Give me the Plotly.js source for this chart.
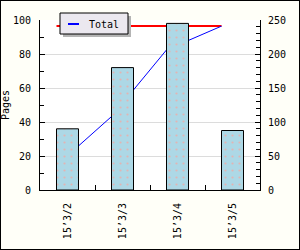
<!DOCTYPE html>
<html>
<head>
<meta charset="utf-8">
<script src="https://cdn.plot.ly/plotly-3.0.1.min.js"></script>
<style>
  html, body { margin: 0; padding: 0; background: #fffff8; }
  #wrap { position: relative; width: 300px; height: 250px; }
  #chart { width: 300px; height: 250px; }
  #frame { position: absolute; left: 0; top: 0; width: 298px; height: 248px; border: 1px solid #000; pointer-events: none; }
</style>
</head>
<body>
<div id="wrap"><div id="chart"></div><div id="frame"></div></div>
<script>
// ---- data ----
const categories = ["15’3/2", "15’3/3", "15’3/4", "15’3/5"];
const pages = [36, 72, 98, 35];
const seriesName = "Total";
const yTitle = "Pages";

// ---- derived ----
const BAR_WIDTH = 0.4;
const idx = categories.map((_, i) => i);
const cumulative = [];
pages.reduce((acc, v) => { const s = acc + v; cumulative.push(s); return s; }, 0);
const total = cumulative[cumulative.length - 1];
const lineX = idx.map(i => i - BAR_WIDTH / 2);

const FONT = { family: "DejaVu Sans Mono, monospace", size: 10, color: "#000" };

// plot-area pixel helpers for the legend box (plot area: x 40..260, y 20..190)
const px = v => (v - 40) / 220;
const py = v => (190 - v) / 170;

const traces = [
  { type: "scatter", mode: "lines",
    x: [lineX[0], lineX[lineX.length - 1]], y: [total, total],
    xaxis: "x", yaxis: "y",
    line: { color: "#ff0000", width: 2 },
    showlegend: false, hoverinfo: "skip" },
  { type: "scatter", mode: "lines",
    x: lineX, y: cumulative,
    xaxis: "x", yaxis: "y",
    name: seriesName,
    line: { color: "#0000ff", width: 1 },
    showlegend: false },
  { type: "bar",
    x: categories, y: pages,
    xaxis: "x2", yaxis: "y2",
    width: BAR_WIDTH,
    marker: {
      color: "#add8e6",
      line: { color: "#000", width: 1 },
      pattern: { shape: ".", fgcolor: "#e2b4b4", bgcolor: "#add8e6", size: 7, solidity: 0.08 }
    },
    showlegend: false }
];

const layout = {
  width: 300, height: 250,
  margin: { l: 40, r: 40, t: 20, b: 60, pad: 0 },
  paper_bgcolor: "#fffff8",
  plot_bgcolor: "#ffffff",
  font: FONT,
  bargap: 0,
  showlegend: false,
  xaxis: { range: [-0.5, categories.length - 0.5], visible: false, fixedrange: true },
  yaxis: {
    side: "right", range: [0, 250], dtick: 50,
    showline: true, linecolor: "#000", linewidth: 1,
    ticks: "inside", ticklen: 5, tickcolor: "#000",
    minor: { dtick: 10, ticks: "inside", ticklen: 4, tickcolor: "#000", showgrid: false },
    showgrid: true, gridcolor: "#dcdcdc", gridwidth: 1,
    zeroline: false, ticklabelstandoff: 5, tickfont: FONT
  },
  xaxis2: {
    type: "category", overlaying: "x", anchor: "y2",
    range: [-0.5, categories.length - 0.5],
    showline: true, linecolor: "#000", linewidth: 1,
    ticks: "inside", tickson: "boundaries", ticklen: 5, tickcolor: "#000",
    tickangle: -90, showgrid: false, ticklabelstandoff: 8, tickfont: FONT
  },
  yaxis2: {
    overlaying: "y", side: "left", anchor: "x2",
    range: [0, 100], dtick: 20,
    showline: true, linecolor: "#000", linewidth: 1,
    ticks: "inside", ticklen: 5, tickcolor: "#000",
    minor: { dtick: 10, ticks: "inside", ticklen: 4, tickcolor: "#000", showgrid: false },
    showgrid: false, zeroline: false, ticklabelstandoff: 6, tickfont: FONT,
    title: { text: yTitle, font: FONT, standoff: 11 }
  },
  shapes: [
    { type: "rect", xref: "paper", yref: "paper", layer: "above",
      x0: px(63), x1: px(131), y0: py(37), y1: py(16),
      fillcolor: "#b4b4b4", line: { width: 0 } },
    { type: "rect", xref: "paper", yref: "paper", layer: "above",
      x0: px(60), x1: px(128), y0: py(34), y1: py(13),
      fillcolor: "#ebe8ef", line: { color: "#000", width: 1 } },
    { type: "line", xref: "paper", yref: "paper", layer: "above",
      x0: px(68), x1: px(79), y0: py(24), y1: py(24),
      line: { color: "#0000ff", width: 2 } }
  ],
  annotations: [
    { xref: "paper", yref: "paper", x: px(87), y: py(24), xanchor: "left", yanchor: "middle",
      text: seriesName, showarrow: false, font: FONT }
  ]
};

Plotly.newPlot("chart", traces, layout, { staticPlot: true, displayModeBar: false });
</script>
</body>
</html>
